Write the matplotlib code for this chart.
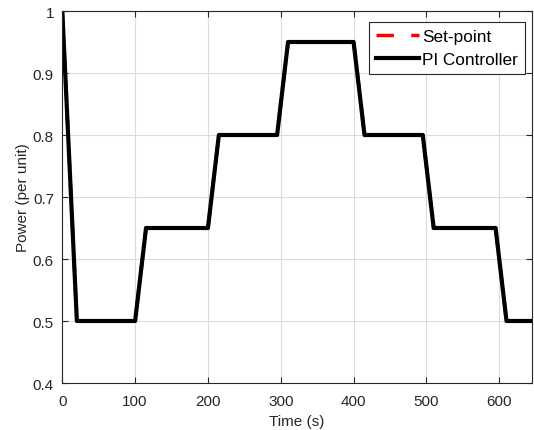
import matplotlib
matplotlib.use("Agg")
import matplotlib.pyplot as plt

# time breakpoints (s) and power (per unit)
time_s = [0, 20, 100, 115, 200, 215, 295, 310, 400, 415, 495, 510, 595, 610, 650]
setpoint = [1.0, 0.5, 0.5, 0.65, 0.65, 0.8, 0.8, 0.95, 0.95, 0.8, 0.8, 0.65, 0.65, 0.5, 0.5]
pi_ctrl = [1.0, 0.5, 0.5, 0.65, 0.65, 0.8, 0.8, 0.95, 0.95, 0.8, 0.8, 0.65, 0.65, 0.5, 0.5]

plt.rcParams["font.family"] = ["Liberation Sans", "DejaVu Sans"]

fig = plt.figure(figsize=(5.34, 4.31), dpi=100)
ax = fig.add_axes([62.3 / 534, 1 - 384 / 431, (532 - 62.3) / 534, (384 - 12) / 431])

ax.plot(time_s, setpoint, color="red", linestyle=(0, (5, 5)), linewidth=2.5, label="Set-point")
ax.plot(time_s, pi_ctrl, color="black", linewidth=3, label="PI Controller")

ax.set_xlim(0, 645)
ax.set_ylim(0.4, 1.0)
ax.set_xticks([0, 100, 200, 300, 400, 500, 600])
ax.set_yticks([0.4, 0.5, 0.6, 0.7, 0.8, 0.9, 1.0])
ax.set_yticklabels(["0.4", "0.5", "0.6", "0.7", "0.8", "0.9", "1"])
ax.set_xlabel("Time (s)", fontsize=11, color="#262626", labelpad=4.5)
ax.set_ylabel("Power (per unit)", fontsize=11, color="#262626", labelpad=2)

ax.grid(True, color="#dcdcdc", linewidth=0.8)
ax.set_axisbelow(True)
ax.tick_params(direction="in", top=True, right=True, labelsize=11, colors="#262626",
               length=4, pad=6)
ax.tick_params(axis="x", pad=8)
for s in ax.spines.values():
    s.set_color("#262626")
    s.set_linewidth(0.8)

leg = ax.legend(loc="upper right", bbox_to_anchor=(0.985, 0.970), borderaxespad=0,
                fontsize=12.4, fancybox=False, framealpha=1, edgecolor="#262626",
                handlelength=2.5, handletextpad=0.2, borderpad=0.4, labelspacing=0.45)
leg.get_frame().set_linewidth(0.8)

fig.savefig("out.png", dpi=100)
